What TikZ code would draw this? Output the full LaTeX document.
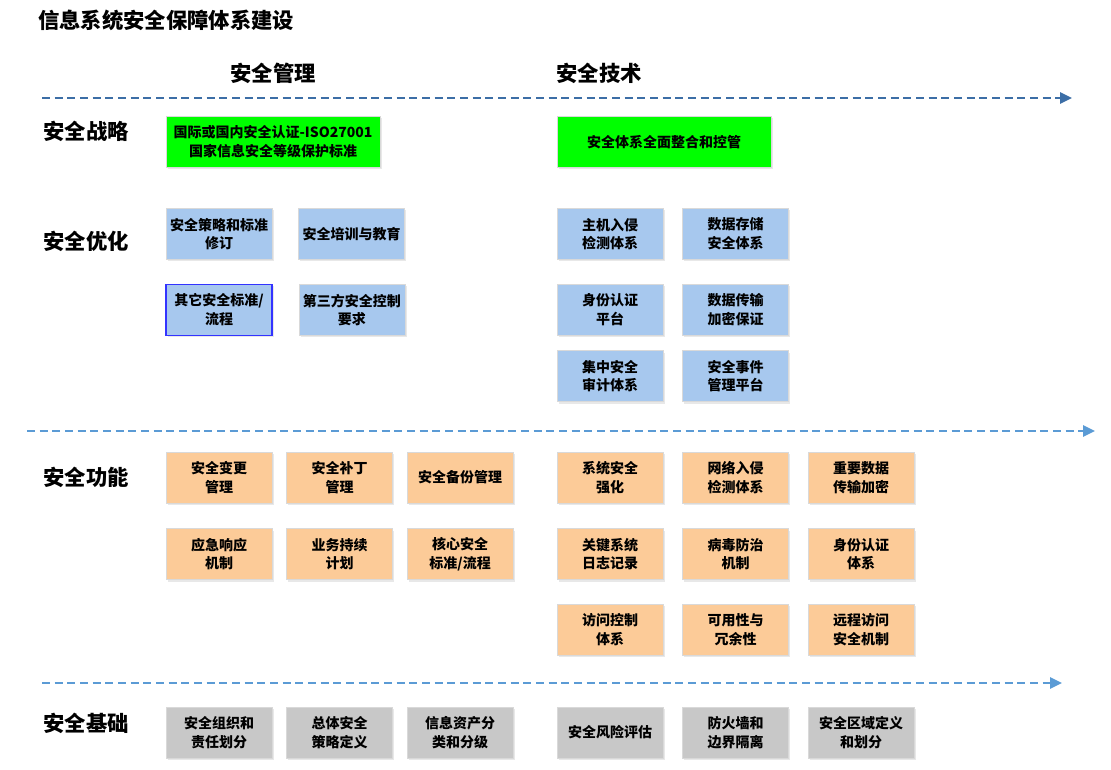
\documentclass[tikz,border=0pt]{standalone}
\usepackage{fontspec}
\setmainfont{Noto Sans CJK SC}
\usepackage{xcolor}
\definecolor{STRATCOLOR}{HTML}{00FF00}
\definecolor{OPTCOLOR}{HTML}{A7C8EE}
\definecolor{FUNCCOLOR}{HTML}{FCCB98}
\definecolor{BASECOLOR}{HTML}{C8C8C8}
\definecolor{TOPLINECOLOR}{HTML}{3C6EA6}
\definecolor{LINECOLOR}{HTML}{5B9BD5}
\definecolor{MARKCOLOR}{HTML}{3333FF}
\usepackage{tikz}
\usetikzlibrary{arrows.meta,positioning,shadows}
\tikzset{
  basic-style/.style = {
    rectangle, draw=black!15, fill=#1,
    minimum height=38.25pt,
    minimum width=79.5pt,
    inner sep=1pt, align=center,
    font=\fontsize{10.5}{14}\selectfont\bfseries,
    drop shadow={shadow xshift=1.2pt,shadow yshift=-1.5pt,fill=black!30,opacity=0.3}
  },
  strat-style/.style = {
    basic-style=STRATCOLOR,
    minimum width=160.5pt
  },
  opt-style/.style = {
    basic-style=OPTCOLOR
  },
  func-style/.style = {
    basic-style=FUNCCOLOR
  },
  base-style/.style = {
    basic-style=BASECOLOR
  },
  mark-style/.style = {
    draw=MARKCOLOR, line width=1pt
  },
  row-style/.style = {
    font=\fontsize{16}{16}\selectfont\bfseries, inner sep=0pt
  },
  line-style/.style = {
    draw=#1, line width=1.5pt, dash pattern=on 6pt off 3.5pt,
    -{Triangle[length=9pt,width=8.5pt,fill=#1]}
  },
  line-style/.default = LINECOLOR
}

\begin{document}
\begin{tikzpicture}[x=0.75pt,y=-0.75pt]
    \useasboundingbox (0,0) rectangle (1111,770);

    %%% headings
    \node[row-style,anchor=west] (title) at (38,20) {信息系统安全保障体系建设};
    \node[row-style] (mgmtHead) at (273,73) {安全管理};
    \node[row-style] (techHead) at (599,73) {安全技术};

    %%% row labels
    \node[row-style] (stratRow) at (86,131) {安全战略};
    \node[row-style] (optRow) at (86,241) {安全优化};
    \node[row-style] (funcRow) at (86,477) {安全功能};
    \node[row-style] (baseRow) at (86,723) {安全基础};

    %%% timelines
    \coordinate (lineAStart) at (42,98);
    \coordinate (lineAEnd) at (1072,98);
    \coordinate (lineBStart) at (27,431);
    \coordinate (lineBEnd) at (1095,431);
    \coordinate (lineCStart) at (42,683);
    \coordinate (lineCEnd) at (1062,683);
    \draw[line-style=TOPLINECOLOR] (lineAStart) -- (lineAEnd);
    \draw[line-style] (lineBStart) -- (lineBEnd);
    \draw[line-style] (lineCStart) -- (lineCEnd);

    %%% strategy
    \node[strat-style] (isoStrat) at (273,142) {国际或国内安全认证-ISO27001\\国家信息安全等级保护标准};
    \node[strat-style] (wholeStrat) at (664,142) {安全体系全面整合和控管};

    %%% optimisation, management
    \node[opt-style] (policyOpt) at (219,234) {安全策略和标准\\修订};
    \node[opt-style,right=19.5pt of policyOpt] (trainOpt) {安全培训与教育};
    \node[opt-style,mark-style,below=18pt of policyOpt] (otherOpt) {其它安全标准/\\流程};
    \node[opt-style,right=19.5pt of otherOpt] (thirdOpt) {第三方安全控制\\要求};

    %%% optimisation, technology
    \node[opt-style] (hostOpt) at (610,234) {主机入侵\\检测体系};
    \node[opt-style,right=14.25pt of hostOpt] (storeOpt) {数据存储\\安全体系};
    \node[opt-style,below=18pt of hostOpt] (idOpt) {身份认证\\平台};
    \node[opt-style,right=14.25pt of idOpt] (transOpt) {数据传输\\加密保证};
    \node[opt-style,below=11.25pt of idOpt] (auditOpt) {集中安全\\审计体系};
    \node[opt-style,right=14.25pt of auditOpt] (eventOpt) {安全事件\\管理平台};

    %%% functions, management
    \node[func-style] (changeFunc) at (219,477.5) {安全变更\\管理};
    \node[func-style,right=10.5pt of changeFunc] (patchFunc) {安全补丁\\管理};
    \node[func-style,right=10.5pt of patchFunc] (backupFunc) {安全备份管理};
    \node[func-style,below=18.75pt of changeFunc] (emergFunc) {应急响应\\机制};
    \node[func-style,right=10.5pt of emergFunc] (contFunc) {业务持续\\计划};
    \node[func-style,right=10.5pt of contFunc] (coreFunc) {核心安全\\标准/流程};

    %%% functions, technology
    \node[func-style] (hardenFunc) at (610,477.5) {系统安全\\强化};
    \node[func-style,right=14.25pt of hardenFunc] (netFunc) {网络入侵\\检测体系};
    \node[func-style,right=14.25pt of netFunc] (encFunc) {重要数据\\传输加密};
    \node[func-style,below=18.75pt of hardenFunc] (logFunc) {关键系统\\日志记录};
    \node[func-style,right=14.25pt of logFunc] (virusFunc) {病毒防治\\机制};
    \node[func-style,right=14.25pt of virusFunc] (authFunc) {身份认证\\体系};
    \node[func-style,below=18pt of logFunc] (accessFunc) {访问控制\\体系};
    \node[func-style,right=14.25pt of accessFunc] (availFunc) {可用性与\\冗余性};
    \node[func-style,right=14.25pt of availFunc] (remoteFunc) {远程访问\\安全机制};

    %%% foundation
    \node[base-style] (orgBase) at (219,732.5) {安全组织和\\责任划分};
    \node[base-style,right=10.5pt of orgBase] (policyBase) {总体安全\\策略定义};
    \node[base-style,right=10.5pt of policyBase] (assetBase) {信息资产分\\类和分级};
    \node[base-style] (riskBase) at (610,732.5) {安全风险评估};
    \node[base-style,right=14.25pt of riskBase] (fwBase) {防火墙和\\边界隔离};
    \node[base-style,right=14.25pt of fwBase] (zoneBase) {安全区域定义\\和划分};
\end{tikzpicture}
\end{document}
